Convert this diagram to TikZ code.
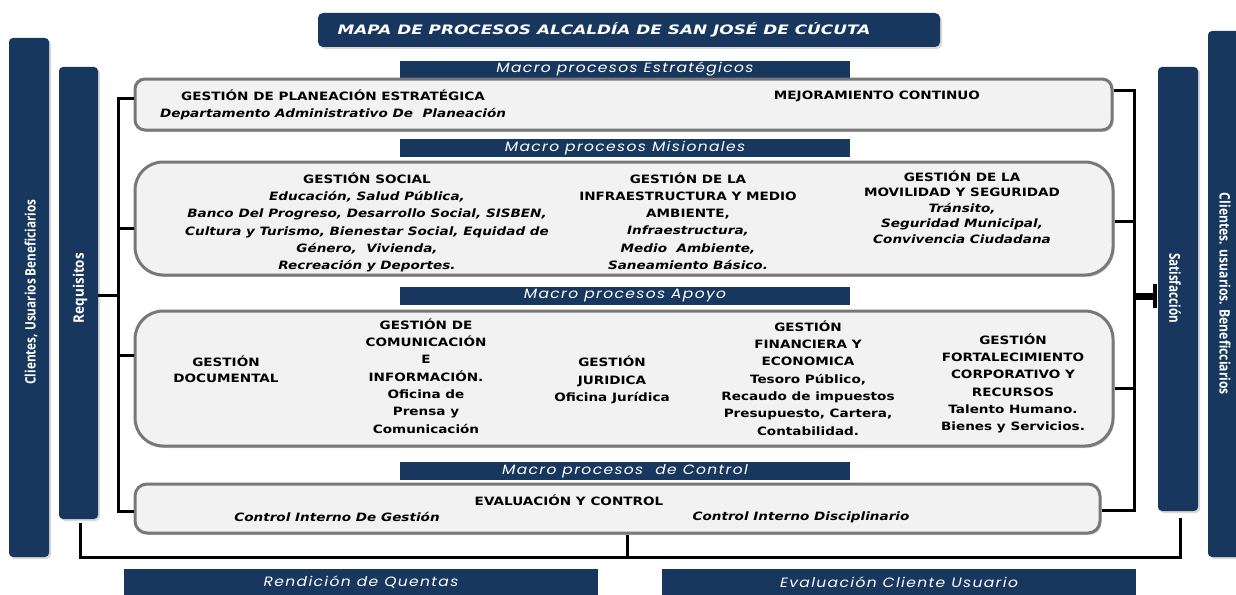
\documentclass[tikz,border=0pt]{standalone}
\usepackage{fontspec}
\usepackage{graphicx}
\usetikzlibrary{shadows,arrows.meta}
\newfontfamily\boxfont{DejaVu Sans}[FakeStretch=1.18]
\newfontfamily\titlefont{DejaVu Sans}[FakeStretch=1.3]
\newfontfamily\headfont{Poppins}[FakeStretch=1.15,LetterSpace=10]
\newfontfamily\condfont{Open Sans}[FakeStretch=0.8]
\definecolor{navy}{RGB}{23,55,94}
\definecolor{boxfill}{RGB}{242,242,242}
\definecolor{boxgray}{RGB}{120,120,120}
\begin{document}
\begin{tikzpicture}[x=1pt,y=-1pt,
  bar/.style={fill=navy, draw=none, rounded corners=4pt, inner sep=0pt, outer sep=0pt,
    drop shadow={shadow xshift=2pt, shadow yshift=-2pt, opacity=.3}},
  hdr/.style={fill=navy, inner sep=0pt, outer sep=0pt, text=white, minimum width=450pt,
    font=\headfont\itshape\fontsize{13.5}{14}\selectfont},
  foot/.style={fill=navy, inner sep=0pt, outer sep=0pt, text=white, minimum width=474pt, minimum height=27pt,
    font=\headfont\itshape\fontsize{13.5}{14}\selectfont},
  proc/.style={draw=boxgray, line width=3pt, fill=boxfill, inner sep=0pt,
    drop shadow={shadow xshift=1.5pt, shadow yshift=-2pt, opacity=.35}},
  lbl/.style={align=center, inner sep=0pt, font=\boxfont\bfseries\fontsize{11.5}{17.3}\selectfont},
  vtext/.style={text=white, inner sep=0pt, font=\condfont\bfseries\fontsize{14}{16}\selectfont},
  conn/.style={line width=3pt, black}
]
\useasboundingbox (0,0) rectangle (1236,594);

% title
\node[bar, rounded corners=5pt, minimum width=622pt, minimum height=34pt] (title) at (629,30) {};
\node[text=white, font=\titlefont\bfseries\itshape\fontsize{13}{14}\selectfont] (titleT) at (604,30) {MAPA DE PROCESOS ALCALDÍA DE SAN JOSÉ DE CÚCUTA};

% side bars
\node[bar, minimum width=40pt, minimum height=519pt] (lout) at (29,297.5) {};
\node[bar, minimum width=39pt, minimum height=452pt] (req) at (78.5,293) {};
\node[bar, minimum width=40pt, minimum height=444pt] (sat) at (1178,289) {};
\node[bar, minimum width=38pt, minimum height=526pt] (rout) at (1227,294) {};
\node[vtext, rotate=90] (loutT) at (31,292) {\resizebox{185pt}{11pt}{Clientes, Usuarios Beneficiarios}};
\node[vtext, rotate=90] (reqT) at (80,288) {\resizebox{70pt}{11pt}{Requisitos}};
\node[vtext, rotate=-90] (satT) at (1175,288) {\resizebox{70pt}{11.5pt}{Satisfacción}};
\node[vtext, rotate=-90] (routT) at (1225,294) {\resizebox{202pt}{11pt}{Clientes. usuarios. Beneficciarios}};

% header bars
\node[hdr, minimum height=17pt] (h1) at (625,69.5) {Macro procesos Estratégicos};
\node[hdr, minimum height=18pt] (h2) at (625,148) {Macro procesos Misionales};
\node[hdr, minimum height=18pt] (h3) at (625,296) {Macro procesos Apoyo};
\node[hdr, minimum height=18pt] (h4) at (625,471) {Macro procesos\ \ de Control};

% process boxes
\node[proc, rounded corners=10pt, minimum width=977pt, minimum height=51pt] (est) at (623.5,104.5) {};
\node[proc, rounded corners=28pt, minimum width=978pt, minimum height=113pt] (mis) at (624,218.5) {};
\node[proc, rounded corners=28pt, minimum width=978pt, minimum height=135pt] (apo) at (624,378.5) {};
\node[proc, rounded corners=12pt, minimum width=965pt, minimum height=49pt] (ctl) at (617.5,508.5) {};

% footer bars
\node[foot] (f1) at (361,582) {Rendición de Quentas};
\node[foot] (f2) at (899,582) {Evaluación Cliente Usuario};

% estrategicos
\node[lbl] (tpla) at (333,105) {GESTIÓN DE PLANEACIÓN ESTRATÉGICA\\\itshape Departamento Administrativo De\ \ Planeación};
\node[lbl] (tmej) at (877,96) {MEJORAMIENTO CONTINUO};

% misionales
\node[lbl] (tsoc) at (367,222.5) {GESTIÓN SOCIAL\\\itshape Educación, Salud Pública,\\\itshape Banco Del Progreso, Desarrollo Social, SISBEN,\\\itshape Cultura y Turismo, Bienestar Social, Equidad de\\\itshape Género,\ \ Vivienda,\\\itshape Recreación y Deportes.};
\node[lbl] (tinf) at (688,221) {GESTIÓN DE LA\\INFRAESTRUCTURA Y MEDIO\\AMBIENTE,\\\itshape Infraestructura,\\\itshape Medio\ \ Ambiente,\\\itshape Saneamiento Básico.};
\node[lbl, font=\boxfont\bfseries\fontsize{11.5}{15.5}\selectfont] (tmov) at (962,207) {GESTIÓN DE LA\\MOVILIDAD Y SEGURIDAD\\\itshape Tránsito,\\\itshape Seguridad Municipal,\\\itshape Convivencia Ciudadana};

% apoyo
\node[lbl, font=\boxfont\bfseries\fontsize{11.5}{16.5}\selectfont] (tdoc) at (226,369) {GESTIÓN\\DOCUMENTAL};
\node[lbl] (tcom) at (426,376) {GESTIÓN DE\\COMUNICACIÓN\\E\\INFORMACIÓN.\\Oficina de\\Prensa y\\Comunicación};
\node[lbl] (tjur) at (612,380) {GESTIÓN\\JURIDICA\\Oficina Jurídica};
\node[lbl] (tfin) at (808,378) {GESTIÓN\\FINANCIERA Y\\ECONOMICA\\Tesoro Público,\\Recaudo de impuestos\\Presupuesto, Cartera,\\Contabilidad.};
\node[lbl] (tfor) at (1013,383.5) {GESTIÓN\\FORTALECIMIENTO\\CORPORATIVO Y\\RECURSOS\\Talento Humano.\\Bienes y Servicios.};

% control
\node[lbl] (teva) at (569,500) {EVALUACIÓN Y CONTROL};
\node[lbl, font=\boxfont\bfseries\itshape\fontsize{11.5}{17}\selectfont] (tcig) at (337,517) {Control Interno De Gestión};
\node[lbl, font=\boxfont\bfseries\itshape\fontsize{11.5}{17}\selectfont] (tcid) at (801,517) {Control Interno Disciplinario};

% left spine
\coordinate (lt) at (118,98);
\coordinate (lm) at (118,228);
\coordinate (la) at (118,355);
\coordinate (lb) at (118,511);
\coordinate (lr) at (118,295);
\draw[conn] (est.west |- lt) -- (lt) -- (lb) -- (ctl.west |- lb);
\draw[conn] (mis.west |- lm) -- (lm);
\draw[conn] (apo.west |- la) -- (la);
\draw[conn] (req.east |- lr) -- (lr);

% right spine
\coordinate (rt) at (1134,90);
\coordinate (rm) at (1134,221);
\coordinate (ra) at (1134,388);
\coordinate (rb) at (1134,510);
\coordinate (rr) at (1134,296);
\draw[conn] (est.east |- rt) -- (rt) -- (rb) -- (ctl.east |- rb);
\draw[conn] (mis.east |- rm) -- (rm);
\draw[conn] (apo.east |- ra) -- (ra);
\draw[conn, line width=7pt, -{Bar[width=24pt, line width=4pt]}] (rr) -- ([xshift=-1pt]sat.west |- rr);

% bottom
\coordinate (bl) at (80,557);
\coordinate (br) at (1180,557);
\coordinate (bc) at (627,557);
\draw[conn] ([yshift=-4pt]req.south -| bl) -- (bl) -- (br) -- ([yshift=-7pt]sat.south -| br);
\draw[conn] (ctl.south -| bc) -- (bc);
\end{tikzpicture}
\end{document}
